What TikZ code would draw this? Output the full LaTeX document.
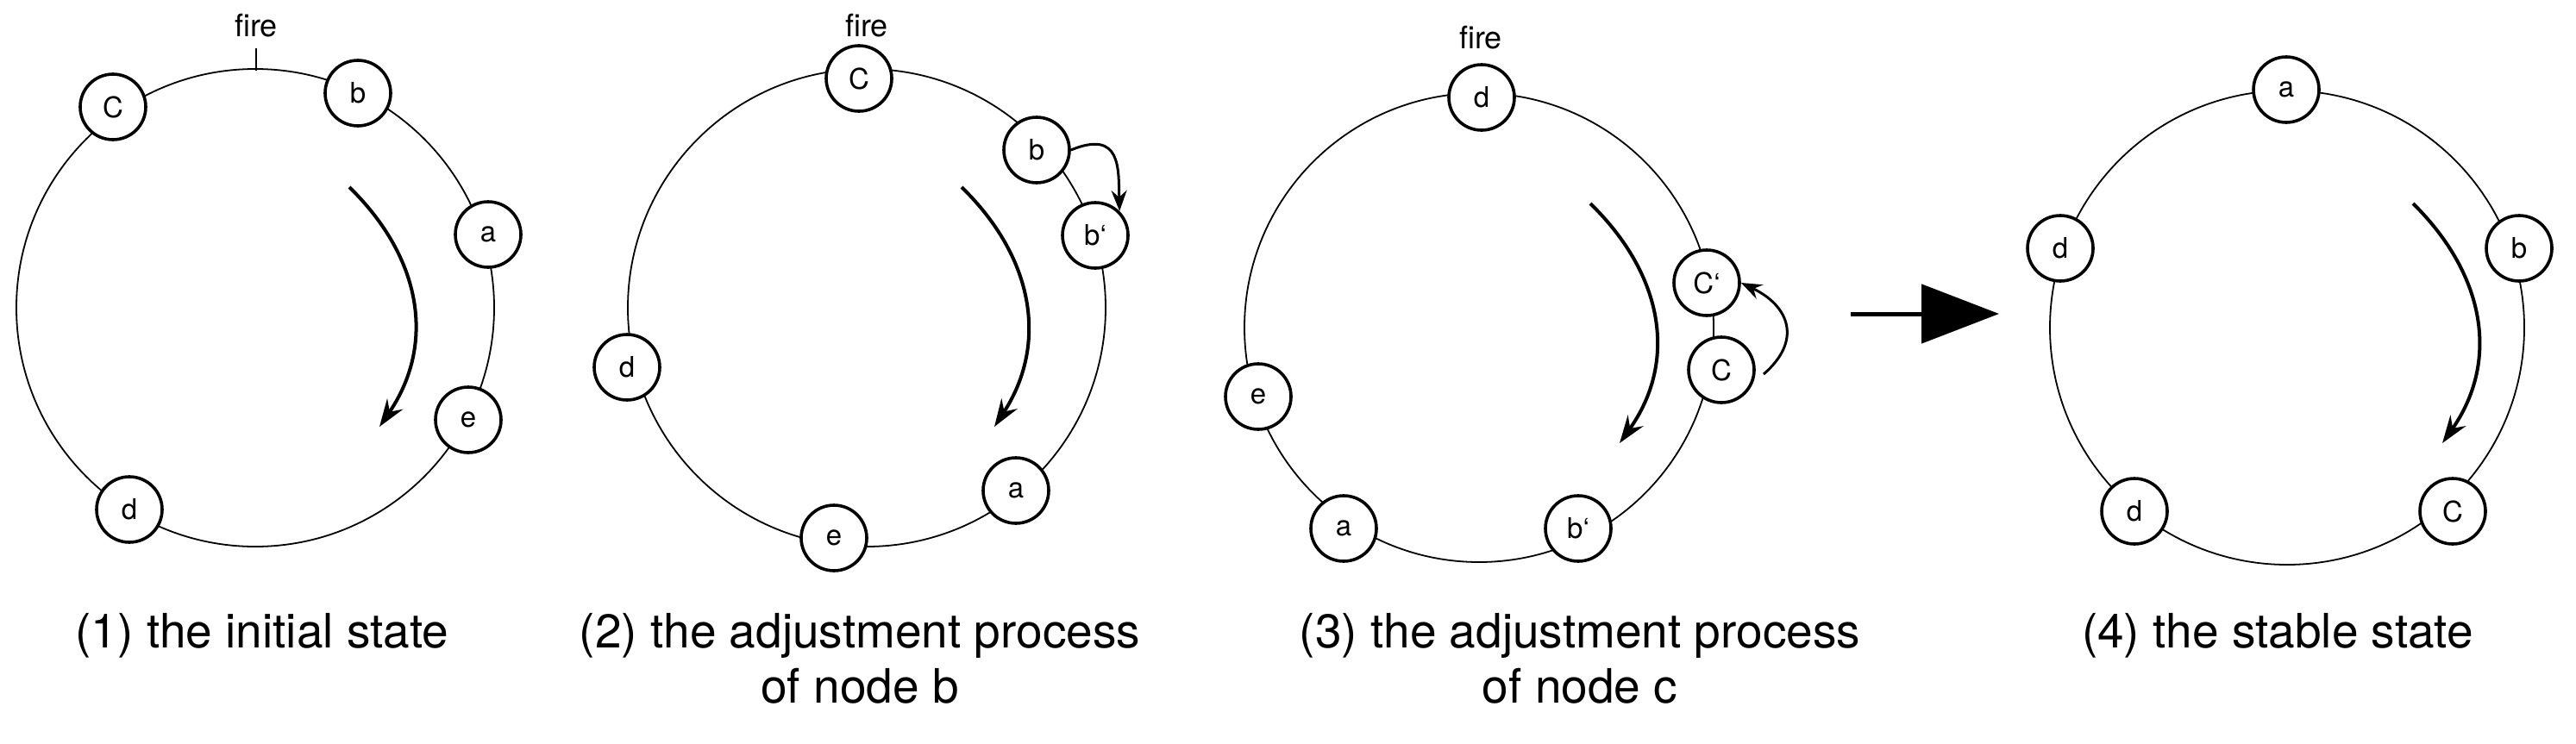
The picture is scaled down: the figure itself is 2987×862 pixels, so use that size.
\documentclass[tikz,border=0pt]{standalone}
\usepackage{fontspec}
\setmainfont{TeX Gyre Heros}
\usetikzlibrary{arrows.meta}
\begin{document}
\begin{tikzpicture}[x=1pt,y=-1pt,
  ring/.style={line width=1.8pt},
  nd/.style={circle,draw,line width=3.6pt,fill=white,minimum size=76pt,inner sep=0pt,font=\fontsize{33}{33}\selectfont},
  lab/.style={font=\fontsize{36}{36}\selectfont},
  captxt/.style={font=\fontsize{55}{64}\selectfont,align=center,anchor=north},
  mv/.style={line width=4pt,-{Stealth[length=32pt,width=22pt,inset=11pt]}},
  sm/.style={line width=3pt,-{Stealth[length=24pt,width=18pt,inset=8pt]}}]
\useasboundingbox (0,0) rectangle (2987,862);
% panel 1
\draw[ring] (296,357) circle (277);
\node[lab] (f1) at (297,30) {fire};
\coordinate (t1a) at (297,56); \coordinate (t1b) at (297,82);
\draw[line width=1.8pt] (t1a) -- (t1b);
\node[nd] (c1) at (131,124) {C};
\node[nd] (b1) at (415,108) {b};
\node[nd] (a1) at (566,272) {a};
\node[nd] (e1) at (543,487) {e};
\node[nd] (d1) at (150,591) {d};
\coordinate (s1) at (405,217); \coordinate (z1) at (440,495);
\draw[mv] (s1) .. controls (490,300) and (505,400) .. (z1);
\node[captxt] (k1) at (304,708) {(1) the initial state};
% panel 2
\draw[ring] (1005,357) circle (277);
\node[lab] (f2) at (1005,30) {fire};
\node[nd] (c2) at (996,91) {C};
\node[nd] (b2) at (1202,174) {b};
\node[nd] (bb2) at (1270,273) {b‘};
\node[nd] (a2) at (1178,569) {a};
\node[nd] (e2) at (967,624) {e};
\node[nd] (d2) at (727,426) {d};
\draw[sm] (b2.east) .. controls (1300,150) and (1297,195) .. (bb2.north east);
\coordinate (s2) at (1115,217); \coordinate (z2) at (1153,495);
\draw[mv] (s2) .. controls (1200,300) and (1215,400) .. (z2);
\node[captxt] (k2) at (997,708) {(2) the adjustment process\\of node b};
% panel 3
\draw[ring] (1715,380) circle (272);
\node[lab] (f3) at (1717,44) {fire};
\node[nd] (d3) at (1718,113) {d};
\node[nd] (cc3) at (1979,328) {C‘};
\node[nd] (c3) at (1996,429) {C};
\node[nd] (e3) at (1459,460) {e};
\node[nd] (a3) at (1558,613) {a};
\node[nd] (bb3) at (1830,613) {b‘};
\coordinate (s3) at (1844,236); \coordinate (z3) at (1878,514);
\draw[mv] (s3) .. controls (1930,320) and (1945,420) .. (z3);
\coordinate (q3) at (2045,434);
\draw[sm] (q3) .. controls (2090,395) and (2075,355) .. (cc3.east);
\node[captxt] (k3) at (1832,708) {(3) the adjustment process\\of node c};
% big arrow
\coordinate (ga) at (2146,364); \coordinate (gb) at (2318,364);
\draw[line width=5pt,-{Triangle[length=90pt,width=68pt]}] (ga) -- (gb);
% panel 4
\draw[ring] (2652,380) circle (275);
\node[nd] (a4) at (2651,104) {a};
\node[nd] (d4) at (2389,288) {d};
\node[nd] (b4) at (2921,288) {b};
\node[nd] (dd4) at (2475,593) {d};
\node[nd] (c4) at (2844,593) {C};
\coordinate (s4) at (2798,236); \coordinate (z4) at (2832,514);
\draw[mv] (s4) .. controls (2883,320) and (2898,420) .. (z4);
\node[captxt] (k4) at (2641,708) {(4) the stable state};
\end{tikzpicture}
\end{document}
